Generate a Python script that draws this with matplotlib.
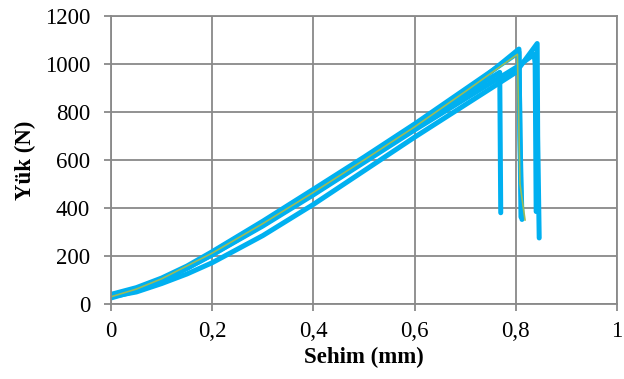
import matplotlib
matplotlib.use("Agg")
import matplotlib.pyplot as plt

plt.rcParams['font.family'] = ['Liberation Serif', 'DejaVu Serif']

# yük-sehim egrileri
xa = [0, 0.05, 0.1, 0.15, 0.2, 0.3, 0.4, 0.5, 0.6, 0.7, 0.806, 0.808, 0.812]
ya = [25, 55, 100, 150, 215, 340, 470, 600, 735, 880, 1062, 700, 352]

xb = [0, 0.05, 0.1, 0.15, 0.2, 0.3, 0.4, 0.5, 0.6, 0.7, 0.8, 0.842, 0.843, 0.846]
yb = [30, 50, 85, 125, 172, 285, 415, 555, 695, 830, 965, 1085, 700, 275]

xc = [0, 0.05, 0.1, 0.15, 0.2, 0.3, 0.4, 0.5, 0.6, 0.7, 0.8, 0.836, 0.838, 0.84]
yc = [35, 62, 100, 150, 205, 325, 455, 590, 725, 855, 985, 1040, 1000, 385]

xd = [0, 0.05, 0.1, 0.15, 0.2, 0.3, 0.4, 0.5, 0.6, 0.7, 0.768, 0.77]
yd = [30, 60, 98, 148, 205, 330, 460, 595, 735, 875, 965, 380]

xe = [0, 0.05, 0.1, 0.15, 0.2, 0.3, 0.4, 0.5, 0.6, 0.7, 0.8, 0.806, 0.81]
ye = [40, 68, 108, 158, 218, 345, 478, 612, 750, 895, 1040, 1050, 362]

xg = [0, 0.05, 0.1, 0.2, 0.3, 0.4, 0.5, 0.6, 0.7, 0.803, 0.808, 0.818]
yg = [30, 62, 105, 212, 335, 465, 600, 738, 885, 1040, 500, 350]

xticks = [0, 0.2, 0.4, 0.6, 0.8, 1]
xlabels = ["0", "0,2", "0,4", "0,6", "0,8", "1"]
yticks = [0, 200, 400, 600, 800, 1000, 1200]

mavi = '#00B0F0'
yesil = '#9BBB59'

fig = plt.figure(figsize=(6.24, 3.79), dpi=100)
ax = fig.add_axes([0.178, 0.198, 0.811, 0.760])

for x, y in [(xb, yb), (xc, yc), (xd, yd), (xa, ya), (xe, ye)]:
    ax.plot(x, y, color=mavi, lw=3.6, solid_capstyle='round', solid_joinstyle='round')
ax.plot(xg, yg, color=yesil, lw=1.2)

ax.set_xlim(0, 1)
ax.set_ylim(0, 1200)
ax.set_xticks(xticks)
ax.set_xticklabels(xlabels)
ax.set_yticks(yticks)
ax.grid(True, color='#898989', lw=1.3)
ax.set_axisbelow(True)
for s in ax.spines.values():
    s.set_color('#898989')
    s.set_linewidth(1.3)
ax.tick_params(axis='both', colors='#898989', labelcolor='black', labelsize=16.5, length=5, width=1.3)
ax.tick_params(axis='y', pad=10)
ax.tick_params(axis='x', pad=7)

ax.set_xlabel('Sehim (mm)', fontsize=16.5, fontweight='bold', labelpad=4)
ax.set_ylabel('Yük (N)', fontsize=16.5, fontweight='bold', labelpad=6)

fig.savefig('out.png', dpi=100)
